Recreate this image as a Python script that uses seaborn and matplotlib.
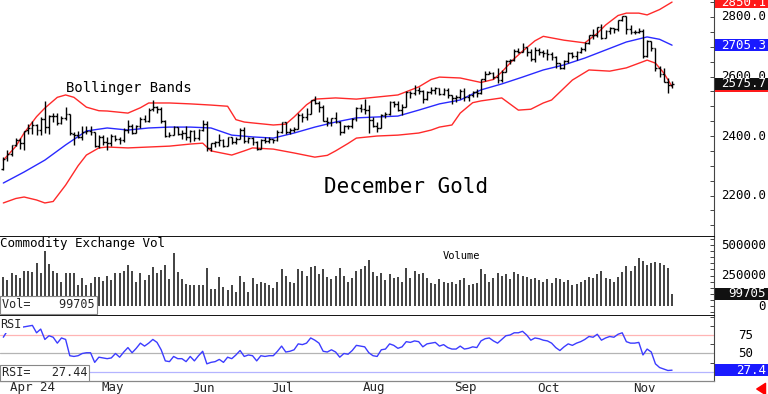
import matplotlib
matplotlib.use("Agg")
import matplotlib.pyplot as plt
import matplotlib.transforms as mtransforms
from matplotlib.patches import Rectangle
from matplotlib.ticker import MultipleLocator
import numpy as np
import pandas as pd
import seaborn as sns

sns.set_style("white")
plt.rcParams['font.family'] = ['DejaVu Sans Mono', 'DejaVu Sans']

# ---------------- data (trading-day index 0 = 28 Mar 2024) ----------------
month_ticks = [1, 23, 45, 64, 86, 108, 128, 151]
month_labels = ["Apr 24", "May", "Jun", "Jul", "Aug", "Sep", "Oct", "Nov"]

opens = [2290,
    2325, 2340, 2369, 2388, 2378, 2420, 2426, 2438, 2419, 2457, 2430, 2467, 2467, 2444, 2462, 2474, 2408, 2402, 2396, 2412, 2417, 2414,
    2365, 2398, 2381, 2378, 2400, 2390, 2385, 2421, 2435, 2410, 2432, 2458, 2450, 2490, 2497, 2491, 2450, 2399, 2404, 2430, 2407, 2411,
    2395, 2417, 2394, 2421, 2442, 2359, 2376, 2380, 2388, 2365, 2396, 2381, 2391, 2421, 2383, 2394, 2379, 2357, 2386,
    2384, 2389, 2387, 2412, 2448, 2414, 2419, 2425, 2469, 2464, 2475, 2521, 2510, 2496, 2451, 2446, 2459, 2447, 2413, 2435, 2432, 2457,
    2494, 2492, 2488, 2455, 2435, 2427, 2471, 2474, 2515, 2507, 2489, 2497, 2548, 2544, 2554, 2551, 2523, 2549, 2556, 2561, 2541, 2556,
    2539, 2528, 2530, 2550, 2531, 2539, 2549, 2544, 2590, 2609, 2613, 2599, 2589, 2616, 2651, 2656, 2685, 2684, 2699, 2684,
    2660, 2688, 2684, 2680, 2677, 2667, 2645, 2630, 2652, 2678, 2670, 2682, 2694, 2712, 2740, 2738, 2766, 2731, 2752, 2763, 2759, 2789, 2803,
    2758, 2749, 2748, 2754, 2670, 2718, 2695, 2629, 2607, 2582, 2573]
highs = [2330,
    2354, 2371, 2393, 2393, 2417, 2441, 2451, 2440, 2463, 2516, 2470, 2476, 2476, 2467, 2499, 2474, 2415, 2418, 2432, 2432, 2432, 2414,
    2404, 2404, 2397, 2408, 2402, 2395, 2426, 2453, 2440, 2436, 2465, 2469, 2494, 2522, 2502, 2497, 2455, 2412, 2433, 2431, 2419, 2432,
    2421, 2420, 2425, 2454, 2452, 2378, 2382, 2406, 2390, 2398, 2395, 2395, 2426, 2429, 2397, 2395, 2384, 2389, 2397,
    2395, 2391, 2421, 2448, 2448, 2427, 2430, 2478, 2477, 2493, 2521, 2535, 2517, 2504, 2463, 2462, 2480, 2449, 2438, 2438, 2460, 2498,
    2508, 2523, 2505, 2464, 2446, 2475, 2481, 2518, 2518, 2519, 2506, 2550, 2550, 2571, 2565, 2553, 2550, 2564, 2565, 2563, 2561, 2560,
    2538, 2538, 2557, 2563, 2540, 2552, 2559, 2592, 2617, 2620, 2614, 2630, 2621, 2654, 2659, 2692, 2697, 2712, 2700, 2691,
    2698, 2696, 2690, 2694, 2682, 2668, 2647, 2655, 2683, 2681, 2685, 2699, 2716, 2741, 2758, 2767, 2775, 2756, 2765, 2764, 2789, 2805, 2804,
    2772, 2757, 2762, 2759, 2721, 2719, 2695, 2635, 2627, 2596, 2584]
lows = [2285,
    2317, 2334, 2366, 2356, 2352, 2407, 2407, 2405, 2405, 2411, 2407, 2448, 2436, 2442, 2454, 2402, 2371, 2392, 2388, 2406, 2404, 2364,
    2359, 2369, 2354, 2368, 2382, 2372, 2381, 2410, 2406, 2409, 2427, 2446, 2448, 2484, 2478, 2445, 2396, 2395, 2402, 2402, 2391, 2388,
    2381, 2383, 2388, 2418, 2351, 2351, 2362, 2365, 2363, 2365, 2373, 2372, 2389, 2377, 2376, 2371, 2353, 2357, 2377,
    2375, 2376, 2383, 2409, 2408, 2408, 2415, 2422, 2446, 2453, 2473, 2506, 2481, 2449, 2434, 2434, 2444, 2402, 2411, 2425, 2427, 2451,
    2481, 2473, 2409, 2430, 2412, 2426, 2459, 2470, 2499, 2484, 2472, 2496, 2528, 2539, 2541, 2510, 2521, 2542, 2542, 2537, 2539, 2529,
    2507, 2513, 2524, 2519, 2519, 2530, 2532, 2542, 2584, 2607, 2592, 2577, 2583, 2615, 2641, 2653, 2678, 2681, 2669, 2651,
    2649, 2671, 2665, 2655, 2655, 2628, 2626, 2625, 2646, 2662, 2657, 2678, 2687, 2710, 2726, 2733, 2725, 2731, 2744, 2746, 2752, 2785, 2744,
    2743, 2742, 2745, 2663, 2665, 2687, 2620, 2599, 2581, 2545, 2562]
closes = [2322,
    2340, 2369, 2388, 2378, 2417, 2426, 2438, 2419, 2457, 2429, 2467, 2467, 2444, 2462, 2474, 2409, 2402, 2396, 2412, 2417, 2414, 2365,
    2398, 2381, 2378, 2400, 2390, 2385, 2421, 2435, 2410, 2432, 2458, 2450, 2487, 2497, 2491, 2450, 2399, 2404, 2430, 2407, 2411, 2395,
    2417, 2394, 2421, 2442, 2359, 2376, 2380, 2388, 2365, 2396, 2381, 2391, 2421, 2383, 2394, 2379, 2357, 2386, 2384,
    2389, 2387, 2412, 2448, 2414, 2419, 2425, 2469, 2464, 2475, 2521, 2510, 2496, 2451, 2446, 2459, 2447, 2413, 2435, 2432, 2457, 2494,
    2492, 2488, 2455, 2435, 2427, 2471, 2474, 2515, 2507, 2489, 2497, 2548, 2544, 2554, 2551, 2523, 2549, 2556, 2561, 2541, 2556, 2539,
    2528, 2530, 2550, 2531, 2539, 2549, 2544, 2590, 2609, 2613, 2599, 2589, 2616, 2651, 2656, 2685, 2684, 2699, 2684, 2660,
    2688, 2684, 2680, 2677, 2667, 2645, 2630, 2652, 2678, 2670, 2682, 2694, 2712, 2740, 2738, 2766, 2731, 2752, 2763, 2759, 2789, 2803, 2758,
    2749, 2748, 2754, 2670, 2718, 2695, 2629, 2607, 2582, 2573, 2575.7]

upper_idx = [0, 3, 5, 8, 10, 13, 15, 17, 20, 23, 25, 30, 33, 35, 40, 45, 50, 54, 56, 58, 60, 65, 68, 70, 73,
             75, 80, 85, 90, 95, 100, 103, 105, 110, 115, 118, 120, 123, 125, 128, 130, 135, 140, 143, 145,
             148, 150, 153, 155, 158, 161]
upper = [2319, 2365, 2410, 2465, 2494, 2530, 2538, 2530, 2497, 2485, 2484, 2477, 2495, 2511, 2511, 2508, 2504,
         2500, 2455, 2447, 2444, 2437, 2440, 2464, 2505, 2524, 2528, 2524, 2531, 2538, 2565, 2590, 2598, 2595,
         2580, 2590, 2615, 2660, 2685, 2720, 2735, 2722, 2713, 2745, 2773, 2805, 2813, 2813, 2807, 2825, 2850.1]
middle_idx = [0, 5, 10, 15, 20, 25, 30, 35, 40, 45, 50, 55, 60, 65, 70, 75, 80, 85, 90, 95, 100, 105, 110,
              115, 120, 125, 130, 135, 140, 145, 150, 155, 158, 161]
middle = [2242, 2279, 2319, 2370, 2417, 2427, 2420, 2427, 2430, 2430, 2427, 2403, 2397, 2393, 2410, 2430,
          2447, 2461, 2464, 2467, 2487, 2508, 2521, 2555, 2575, 2598, 2622, 2639, 2662, 2689, 2716, 2733,
          2725, 2705.3]
lower_idx = [0, 3, 5, 8, 10, 12, 15, 18, 20, 23, 25, 30, 35, 40, 45, 48, 50, 55, 58, 60, 65, 70, 75, 78, 80,
             83, 85, 90, 95, 100, 103, 105, 108, 110, 113, 115, 120, 124, 127, 130, 132, 137, 141, 146, 150,
             155, 157, 159, 161]
lower = [2175, 2190, 2195, 2185, 2175, 2180, 2235, 2300, 2336, 2360, 2363, 2360, 2363, 2366, 2373, 2376, 2350,
         2336, 2350, 2360, 2356, 2343, 2329, 2335, 2350, 2375, 2393, 2400, 2403, 2410, 2420, 2430, 2437, 2477,
         2512, 2518, 2528, 2487, 2490, 2511, 2521, 2588, 2622, 2618, 2629, 2655, 2645, 2612, 2566.5]

volume_k = [238, 213, 271, 254, 230, 287, 287, 279, 353, 271, 451, 344, 287, 271, 197, 271, 271, 271, 172, 230,
            172, 189, 238, 238, 205, 246, 213, 271, 271, 287, 336, 287, 197, 271, 213, 254, 320, 271, 295, 336,
            221, 435, 279, 221, 180, 172, 172, 172, 172, 312, 139, 139, 238, 156, 131, 172, 115, 246, 197, 115,
            230, 180, 200, 190,
            170, 150, 200, 300, 250, 200, 190, 300, 290, 250, 320, 330, 260, 300, 240, 220, 250, 310, 250, 200, 230, 290,
            300, 330, 380, 280, 250, 270, 210, 260, 230, 240, 200, 310, 230, 290, 260, 270, 230, 190, 180, 220, 200, 190,
            200, 180, 210, 230, 170, 180, 190, 300, 260, 200, 230, 270, 250, 260, 220, 280, 260, 250, 240, 220,
            230, 210, 200, 220, 190, 230, 220, 200, 210, 170, 180, 200, 210, 240, 230, 260, 290, 230, 220, 200, 240, 280, 330,
            290, 330, 390, 370, 340, 350, 360, 350, 340, 310, 99.705]

rsi = [72, 81, 84, 85, 85, 86, 87, 88, 78, 83, 69, 74, 72, 64, 71, 69, 47, 46, 47, 50,
       51, 51, 38, 45, 44, 43, 44, 50, 45, 52, 58, 51, 57, 64, 60, 64, 69, 65, 55, 40,
       39, 46, 43, 43, 39, 46, 40, 47, 53, 36, 38, 39, 42, 38, 45, 43, 48, 54, 46, 48,
       47, 40, 47, 46, 47, 47, 53, 60, 52, 53, 55, 63, 62, 64, 71, 68, 64, 53, 52, 55,
       52, 45, 50, 49, 54, 61, 60, 59, 51, 47, 46, 55, 56, 63, 61, 57, 59, 66, 65, 67,
       66, 59, 63, 64, 65, 60, 62, 58, 56, 56, 60, 56, 57, 59, 58, 67, 70, 71, 67, 64,
       69, 74, 75, 78, 78, 80, 75, 68, 71, 70, 68, 67, 64, 58, 54, 59, 63, 61, 64, 66,
       69, 73, 72, 76, 68, 71, 73, 72, 76, 78, 66, 64, 64, 65, 48, 56, 52, 36, 31, 29,
       27, 27.44]

n = len(closes)
assert len(opens) == n and len(highs) == n and len(lows) == n and len(volume_k) == n and len(rsi) == n, \
    (len(opens), len(highs), len(lows), len(closes), len(volume_k), len(rsi))
assert len(upper) == len(upper_idx) and len(middle) == len(middle_idx) and len(lower) == len(lower_idx)

bars = pd.DataFrame({"i": np.arange(n), "open": opens, "high": highs, "low": lows,
                     "close": closes, "vol": volume_k, "rsi": rsi})

# ---------------- layout ----------------
W, H = 768, 394
fig = plt.figure(figsize=(W / 100, H / 100), dpi=100, facecolor='white')


def px_axes(x0, y0, x1, y1):
    return fig.add_axes([x0 / W, 1 - y1 / H, (x1 - x0) / W, (y1 - y0) / H])


ax_p = px_axes(0, 0, 714, 237)
ax_v = px_axes(0, 237, 714, 316)
ax_r = px_axes(0, 316, 714, 381)

for ax in (ax_p, ax_v, ax_r):
    ax.set_xlim(-0.8, 171.1)
    ax.set_facecolor('white')
    ax.spines['top'].set_visible(False)
    ax.spines['left'].set_visible(False)
    ax.spines['right'].set_color('#444444')
    ax.spines['right'].set_linewidth(0.8)
    ax.yaxis.tick_right()
    ax.tick_params(axis='y', direction='in', length=3, width=0.7, color='#444444',
                   labelright=False, labelleft=False)
    ax.set_xlabel('')
    ax.set_ylabel('')

ax_p.set_ylim(2060.6, 2857.1)
ax_v.set_ylim(-82, 566)
ax_r.set_ylim(12.8, 100.7)
ax_p.yaxis.set_major_locator(MultipleLocator(50))
ax_v.yaxis.set_major_locator(MultipleLocator(50))
ax_r.yaxis.set_major_locator(MultipleLocator(12.5))

for ax in (ax_p, ax_v):
    ax.set_xticks([])
    ax.spines['bottom'].set_color('black')
    ax.spines['bottom'].set_linewidth(1.3)
ax_r.spines['bottom'].set_color('#888888')
ax_r.spines['bottom'].set_linewidth(0.9)
ax_r.set_xticks(month_ticks)
ax_r.tick_params(axis='x', direction='out', length=9.4, width=0.8, color='#888888', labelbottom=False)

# ---------------- price panel ----------------
ax_p.vlines(bars["i"], bars["low"], bars["high"], color='black', lw=1.0, zorder=3)
ax_p.hlines(bars["open"], bars["i"] - 0.45, bars["i"], color='black', lw=1.0, zorder=3)
ax_p.hlines(bars["close"], bars["i"], bars["i"] + 0.45, color='black', lw=1.0, zorder=3)

sns.lineplot(x=upper_idx, y=upper, ax=ax_p, color='#ff2a2a', linewidth=1.0, zorder=2)
sns.lineplot(x=lower_idx, y=lower, ax=ax_p, color='#ff2a2a', linewidth=1.0, zorder=2)
sns.lineplot(x=middle_idx, y=middle, ax=ax_p, color='#2a2aff', linewidth=1.0, zorder=2)

ax_p.text(66 / 714, 1 - 88 / 237, "Bollinger Bands", transform=ax_p.transAxes,
          fontsize=10, ha='left', va='center', color='black')
ax_p.text(406 / 714, 1 - 187 / 237, "December Gold", transform=ax_p.transAxes,
          fontsize=15, ha='center', va='center', color='black')

# ---------------- volume panel ----------------
ax_v.vlines(bars["i"], 0, bars["vol"], color='#333333', lw=1.3, zorder=2)
ax_v.text(0.0, 1 - 7 / 79, "Commodity Exchange Vol", transform=ax_v.transAxes,
          fontsize=9, ha='left', va='center', color='black')
ax_v.text(443 / 714, 1 - 19 / 79, "Volume", transform=ax_v.transAxes,
          fontsize=7.5, ha='left', va='center', color='black')
ax_v.text(2 / 714, (316 - 305) / 79, "Vol=    %d" % round(volume_k[-1] * 1000),
          transform=ax_v.transAxes, fontsize=8.5, ha='left', va='center', zorder=5,
          bbox=dict(boxstyle='square,pad=0.2', fc='white', ec='#888888', lw=0.8))

# ---------------- RSI panel ----------------
for lvl, col in ((75, '#ffb4b4'), (50, '#b4b4b4'), (25, '#b4b4ff')):
    ax_r.axhline(lvl, color=col, lw=0.9, zorder=1)
sns.lineplot(x=bars["i"], y=bars["rsi"], ax=ax_r, color='#3c3cff', linewidth=1.0, zorder=2)
ax_r.set_xlabel('')
ax_r.set_ylabel('')
ax_r.text(0.0, (381 - 325) / 65, "RSI", transform=ax_r.transAxes, fontsize=8.5,
          ha='left', va='center', zorder=5,
          bbox=dict(boxstyle='square,pad=0.1', fc='white', ec='none'))
ax_r.text(2 / 714, (381 - 373) / 65, "RSI=   %.2f" % rsi[-1], transform=ax_r.transAxes,
          fontsize=8.5, ha='left', va='center', zorder=5,
          bbox=dict(boxstyle='square,pad=0.15', fc='white', ec='#888888', lw=0.8))

xlab_tr = mtransforms.blended_transform_factory(ax_r.transData, ax_r.transAxes)
for m, lab in zip(month_ticks, month_labels):
    ax_r.text(m + 0.55, -7 / 65, lab, transform=xlab_tr, fontsize=9,
              ha='left', va='center', clip_on=False)

# ---------------- right-hand value labels ----------------
def right_label(ax, val, text, x_px=766, color='black', fs=9):
    tr = mtransforms.blended_transform_factory(fig.transFigure, ax.transData)
    ax.text(x_px / W, val, text, transform=tr, ha='right', va='center',
            fontsize=fs, color=color, clip_on=False, zorder=6)


def box_label(ax, val, text, bg, h_px=12, zo=7):
    tr = mtransforms.blended_transform_factory(fig.transFigure, ax.transData)
    y0, y1 = ax.get_ylim()
    ax_h = ax.get_position().height * H
    h = h_px * (y1 - y0) / ax_h
    ax.add_patch(Rectangle((715 / W, val - h / 2), 53 / W, h, transform=tr,
                           fc=bg, ec='none', clip_on=False, zorder=zo))
    ax.text(766 / W, val, text, transform=tr, ha='right', va='center', fontsize=9,
            color='white', clip_on=False, zorder=zo + 0.5)


for v in (2200, 2400, 2600, 2800):
    right_label(ax_p, v, "%.1f" % v)
box_label(ax_p, upper[-1], "%.1f" % upper[-1], '#ff1a1a')
box_label(ax_p, middle[-1], "%.1f" % middle[-1], '#1a1aff')
box_label(ax_p, lower[-1], "%.1f" % lower[-1], '#ff1a1a', zo=7)
box_label(ax_p, closes[-1], "%.1f" % closes[-1], '#111111', zo=9)

for v, t in ((500, "500000"), (250, "250000"), (0, "0")):
    right_label(ax_v, v, t)
box_label(ax_v, volume_k[-1], "%d" % round(volume_k[-1] * 1000), '#111111')

for v in (75, 50):
    right_label(ax_r, v, "%d" % v, x_px=753)
box_label(ax_r, rsi[-1], "%.1f" % rsi[-1], '#1a1aff')

# small red arrow bottom-right
fig.add_artist(matplotlib.patches.FancyArrowPatch(
    (767 / W, 1 - 389 / H), (754 / W, 1 - 389 / H), transform=fig.transFigure,
    arrowstyle='simple,head_width=0.9,head_length=0.7,tail_width=0.4',
    mutation_scale=9, color='#ff0000'))

fig.savefig("out.png", dpi=100, facecolor='white')
